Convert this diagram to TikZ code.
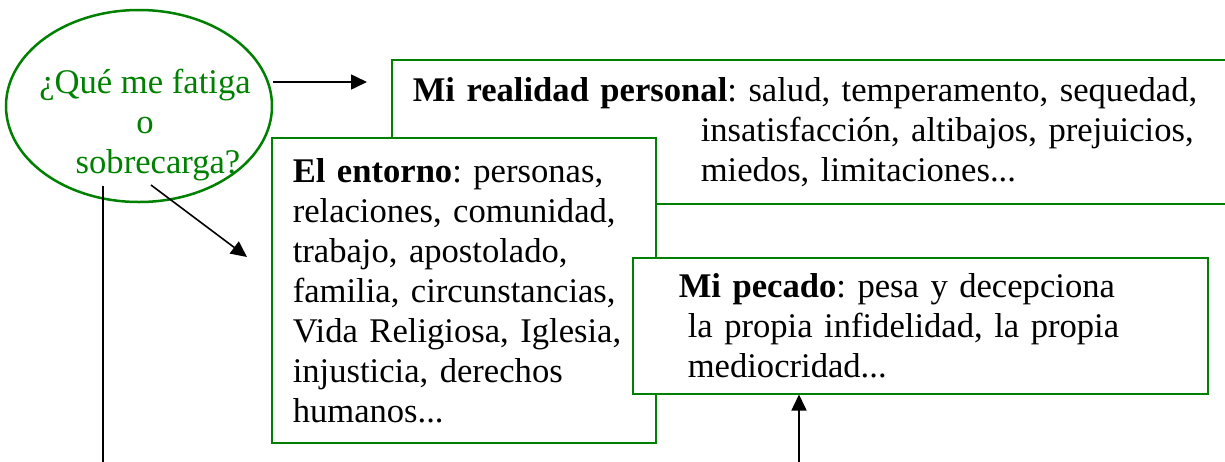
\documentclass[tikz,border=0pt]{standalone}
\usepackage{fontspec}
\setmainfont{Liberation Serif}
\usetikzlibrary{arrows.meta, shapes.geometric}
\definecolor{boxgreen}{RGB}{0,128,0}
\newcommand{\bigtext}{\fontsize{34.6}{40}\selectfont\frenchspacing}
\tikzset{
  causebox/.style={
    draw=boxgreen,
    line width=1.5pt,
    fill=white,
    anchor=north west,
    align=left,
    inner xsep=21pt,
    inner ysep=0pt,
    font=\bigtext
  },
  question/.style={
    ellipse,
    draw=boxgreen,
    line width=2.5pt,
    text=boxgreen,
    align=center,
    minimum width=266pt,
    minimum height=192pt,
    inner xsep=-20pt,
    inner ysep=-14pt,
    font=\bigtext
  },
  stem/.style={draw, line width=1.6pt},
  arrow/.style={draw, line width=1.6pt, ->, >={Triangle[length=16pt,width=15pt]}}
}
\begin{document}
\begin{tikzpicture}[x=1pt, y=-1pt]
  \useasboundingbox (0,0) rectangle (1225,461);
  \clip (0,0) rectangle (1225,461);
  \node (real) [causebox, minimum height=144pt, text width=807pt] at (391,59)
    {\textbf{Mi realidad personal}: salud, temperamento, sequedad,\\
     \hspace*{288pt}insatisfacción, altibajos, prejuicios,\\
     \hspace*{288pt}miedos, limitaciones...};
  \node (ent) [causebox, minimum height=305pt, text width=342pt] at (271,137)
    {\textbf{El entorno}: personas,\\ relaciones, comunidad,\\ trabajo, apostolado,\\
     familia, circunstancias,\\ Vida Religiosa, Iglesia,\\ injusticia, derechos\\ humanos...};
  \node (pec) [causebox, minimum height=136pt, text width=533pt] at (632,257)
    {\hspace*{25pt}\textbf{Mi pecado}: pesa y decepciona\\
     \hspace*{34pt}la propia infidelidad, la propia\\
     \hspace*{34pt}mediocridad...};
  \node (ask) [question] at (139,106)
    {\hspace*{12pt}¿Qué me fatiga\rule{0pt}{62pt}\\ \hspace*{12pt}o\\ \hspace*{38pt}sobrecarga?};
  % connectors
  \coordinate (realtip) at (367,82);
  \draw [arrow] (realtip -| ask.east) -- (realtip);
  \coordinate (enttail) at (151,185);
  \coordinate (enttip) at (247,257);
  \draw [arrow] (enttail) -- (enttip);
  \coordinate (stemtop) at (103,186);
  \coordinate (stemfoot) at (103,465);
  \draw [stem] (stemtop) -- (stemfoot);
  \coordinate (pecfoot) at (799,465);
  \draw [arrow] (pecfoot) -- (pecfoot |- pec.south);
\end{tikzpicture}
\end{document}
